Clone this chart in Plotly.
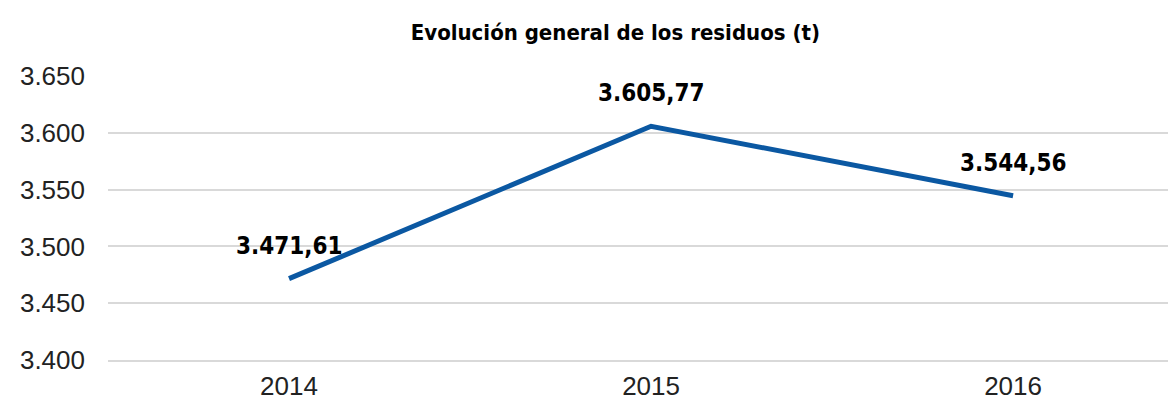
import plotly.graph_objects as go

years = ["2014", "2015", "2016"]
values = [3471.61, 3605.77, 3544.56]
labels = ["3.471,61", "3.605,77", "3.544,56"]
title = "Evolución general de los residuos (t)"

fig = go.Figure()
fig.add_trace(go.Scatter(x=years, y=values, mode="lines",
                         line=dict(color="#0b58a2", width=5), hoverinfo="skip"))
for i, (y, t) in enumerate(zip(values, labels)):
    fig.add_annotation(x=i, y=y, xref="x", yref="y", text="<b>%s</b>" % t, showarrow=False,
                       yshift=33, font=dict(size=24, color="#000000",
                                            family="DejaVu Sans Condensed"))

# page body has an 8px margin; compensate
fig.update_layout(
    width=1168, height=397,
    margin=dict(l=100, r=0, t=68, b=45),
    plot_bgcolor="white", paper_bgcolor="white",
    separators=",.",
    showlegend=False,
    title=dict(text="<b>%s</b>" % title, x=0.52, xanchor="center", y=0.94, yanchor="middle",
               font=dict(size=22, color="#000000", family="DejaVu Sans Condensed")),
    xaxis=dict(type="category", range=[-0.5, 2.45], showgrid=False,
               showline=True, linecolor="#d9d9d9", linewidth=1.5,
               ticks="", ticklabelstandoff=2,
               tickfont=dict(size=26, color="#222222", family="Liberation Sans, Arial")),
    yaxis=dict(range=[3400, 3650], dtick=50, tickformat=",.0f",
               showgrid=True, gridcolor="#d9d9d9", gridwidth=1.5,
               zeroline=False, ticks="", ticklabelstandoff=22,
               tickfont=dict(size=26, color="#222222", family="Liberation Sans, Arial")),
)
fig.write_html("out.html")
